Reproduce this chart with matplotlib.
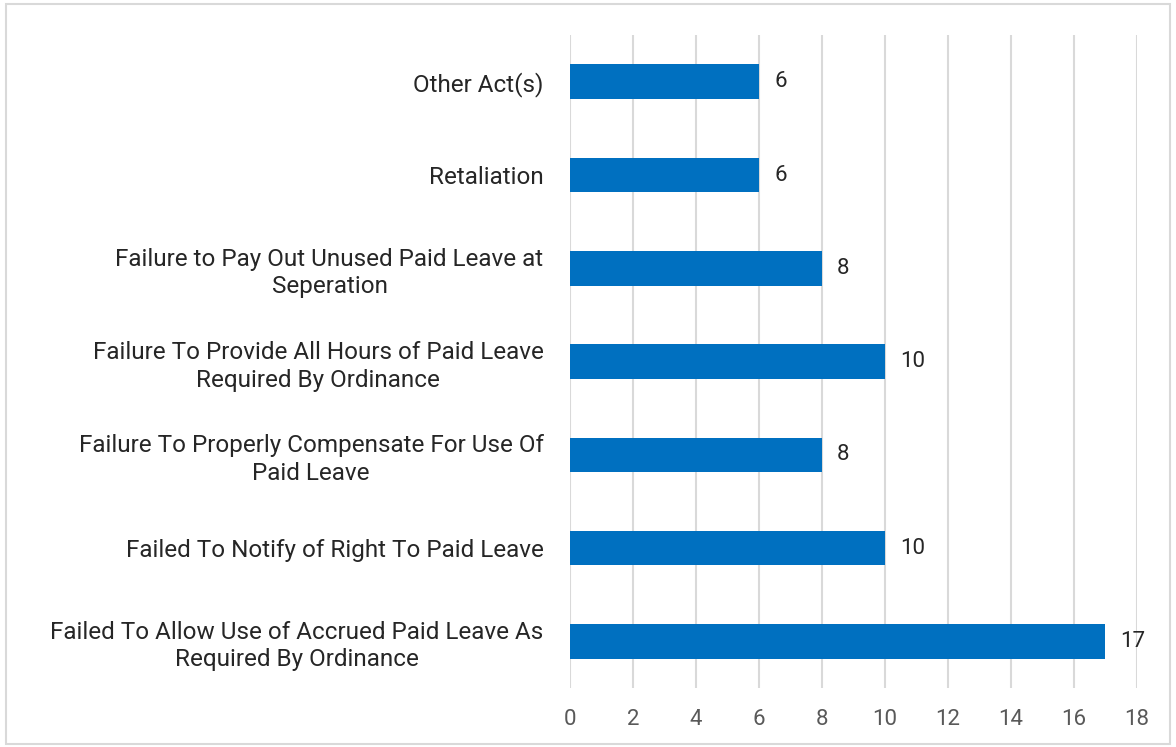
import matplotlib.pyplot as plt
from matplotlib.patches import Rectangle

# categories listed bottom to top
categories = [
    "Failed To Allow Use of Accrued Paid Leave As\nRequired By Ordinance",
    "Failed To Notify of Right To Paid Leave",
    "Failure To Properly Compensate For Use Of\nPaid Leave",
    "Failure To Provide All Hours of Paid Leave\nRequired By Ordinance",
    "Failure to Pay Out Unused Paid Leave at\nSeperation",
    "Retaliation",
    "Other Act(s)",
]
counts = [17, 10, 8, 10, 8, 6, 6]
x_ticks = list(range(0, 19, 2))

BAR_COLOR = "#0070C0"
GRID_COLOR = "#D9D9D9"
TEXT_COLOR = "#262626"
TICK_COLOR = "#595959"

plt.rcParams["font.family"] = ["Roboto", "DejaVu Sans"]

fig = plt.figure(figsize=(11.76, 7.47), dpi=100)
ax = fig.add_axes([0.4847, 0.079, 0.482, 0.874])

ypos = range(len(categories))
ax.barh(ypos, counts, height=0.37, color=BAR_COLOR, zorder=3)

for y, v in zip(ypos, counts):
    ax.annotate(str(v), (v, y), xytext=(11, 0), textcoords="offset points",
                va="center", ha="left", fontsize=16, color=TEXT_COLOR)

ax.set_xlim(0, 18)
ax.set_ylim(-0.5, len(categories) - 0.5)
ax.set_xticks(x_ticks)
ax.set_yticks(list(ypos))
ax.set_yticklabels(categories, fontsize=17.5, color=TEXT_COLOR,
                   multialignment="center", linespacing=1.25)
ax.tick_params(axis="y", length=0, pad=19)
ax.tick_params(axis="x", length=0, pad=15, labelsize=16, labelcolor=TICK_COLOR)

ax.grid(axis="x", color=GRID_COLOR, linewidth=1.5, zorder=0)
for s in ax.spines.values():
    s.set_visible(False)

# light outer frame
fig.patches.append(Rectangle((0.005, 0.004), 0.99, 0.99, transform=fig.transFigure,
                             fill=False, edgecolor="#D9D9D9", linewidth=1.5))

fig.savefig("out.png", dpi=100)
